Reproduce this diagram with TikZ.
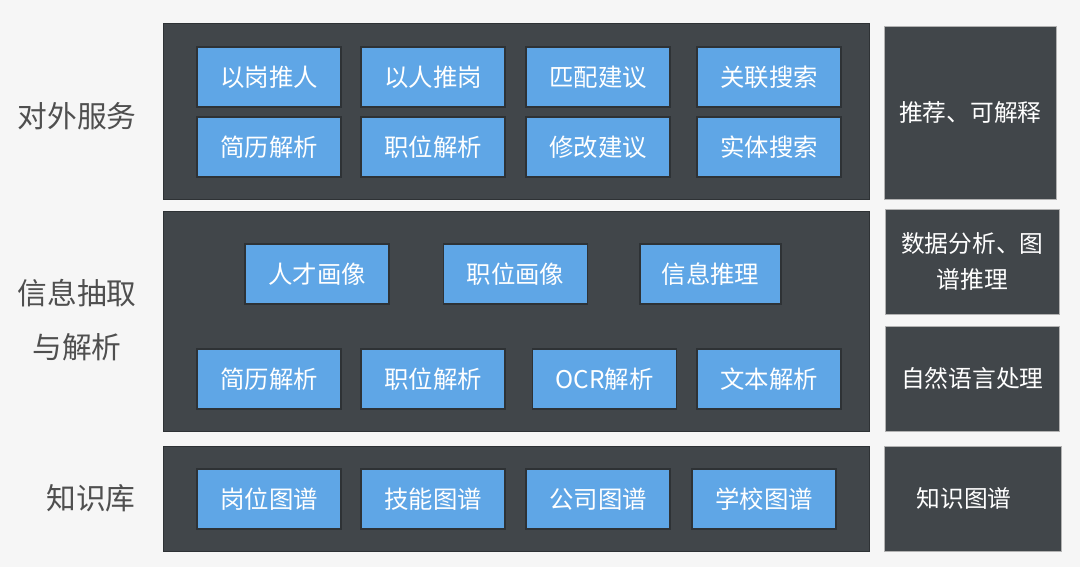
\documentclass[tikz,border=0pt]{standalone}
\usepackage{fontspec}
\setmainfont{Noto Sans CJK SC}
\usetikzlibrary{positioning}
\definecolor{bgc}{HTML}{F6F6F6}
\definecolor{panelc}{HTML}{41464A}
\definecolor{panelb}{HTML}{2E3235}
\definecolor{blueb}{HTML}{5FA6E6}
\definecolor{labelc}{HTML}{4F4F4F}
\tikzset{
  panel/.style={draw=panelb, line width=0.8pt, fill=panelc, inner sep=0pt, anchor=north west},
  rpanel/.style={draw=gray!60, line width=0.6pt, fill=panelc, inner sep=0pt, text=white,
     font=\fontsize{17.5pt}{23pt}\selectfont, align=center, anchor=north west},
  bbox/.style={draw=panelb, line width=1.1pt, fill=blueb, text=white, inner sep=0pt,
     minimum width=108pt, minimum height=45pt, font=\fontsize{18.3pt}{21pt}\selectfont},
  rtext/.style={text=white, font=\fontsize{17.8pt}{23pt}\selectfont},
  lab/.style={text=labelc, font=\fontsize{22.3pt}{40pt}\selectfont, align=center}
}
\begin{document}
\begin{tikzpicture}[x=0.75pt,y=-0.75pt]
\fill[bgc] (0,0) rectangle (1080,567);
\useasboundingbox (0,0) rectangle (1080,567);
% main panels
\node[panel, minimum width=529.5pt, minimum height=132pt] (p1) at (163,23) {};
\node[panel, minimum width=529.5pt, minimum height=165pt] (p2) at (163,211) {};
\node[panel, minimum width=529.5pt, minimum height=78.75pt] (p3) at (163,446) {};
% right panels
\node[rpanel, minimum width=129pt, minimum height=129.75pt] (r1) at (884,26) {};
\node at (r1.center) [rtext] (r1t) {推荐、可解释};
\node[rpanel, minimum width=130.5pt, minimum height=78.75pt] (r2) at (885,209) {};
\node at (r2.center) [rtext, font=\fontsize{17.8pt}{27pt}\selectfont, align=center] (r2t) {数据分析、图\\谱推理};
\node[rpanel, minimum width=130.5pt, minimum height=78.75pt] (r3) at (885,326) {};
\node at (r3.center) [rtext] (r3t) {自然语言处理};
\node[rpanel, minimum width=132.75pt, minimum height=78.75pt] (r4) at (884,446) {};
\node at ([xshift=-6.5pt]r4.center) [rtext] (r4t) {知识图谱};
% left labels
\node[lab] (l1) at (77,116) {对外服务};
\node[lab] (l2) at (77,320) {信息抽取\\与解析};
\node[lab] (l3) at (91,498) {知识库};
% panel 1 boxes
\node[bbox] (a1) at (269,77) {以岗推人};
\node[bbox] (a2) at (433,77) {以人推岗};
\node[bbox] (a3) at (598,77) {匹配建议};
\node[bbox] (a4) at (769,77) {关联搜索};
\node[bbox] (a5) at (269,147) {简历解析};
\node[bbox] (a6) at (433,147) {职位解析};
\node[bbox] (a7) at (598,147) {修改建议};
\node[bbox] (a8) at (769,147) {实体搜索};
% panel 2 boxes
\node[bbox] (b1) at (317,274) {人才画像};
\node[bbox] (b2) at (515.5,274) {职位画像};
\node[bbox, minimum width=105.75pt] (b3) at (710.5,274) {信息推理};
\node[bbox] (b4) at (269,379) {简历解析};
\node[bbox] (b5) at (433,379) {职位解析};
\node[bbox] (b6) at (604.5,379) {OCR解析};
\node[bbox] (b7) at (769,379) {文本解析};
% panel 3 boxes
\node[bbox] (c1) at (269,499) {岗位图谱};
\node[bbox] (c2) at (433,499) {技能图谱};
\node[bbox] (c3) at (598,499) {公司图谱};
\node[bbox] (c4) at (764,499) {学校图谱};
\end{tikzpicture}
\end{document}
